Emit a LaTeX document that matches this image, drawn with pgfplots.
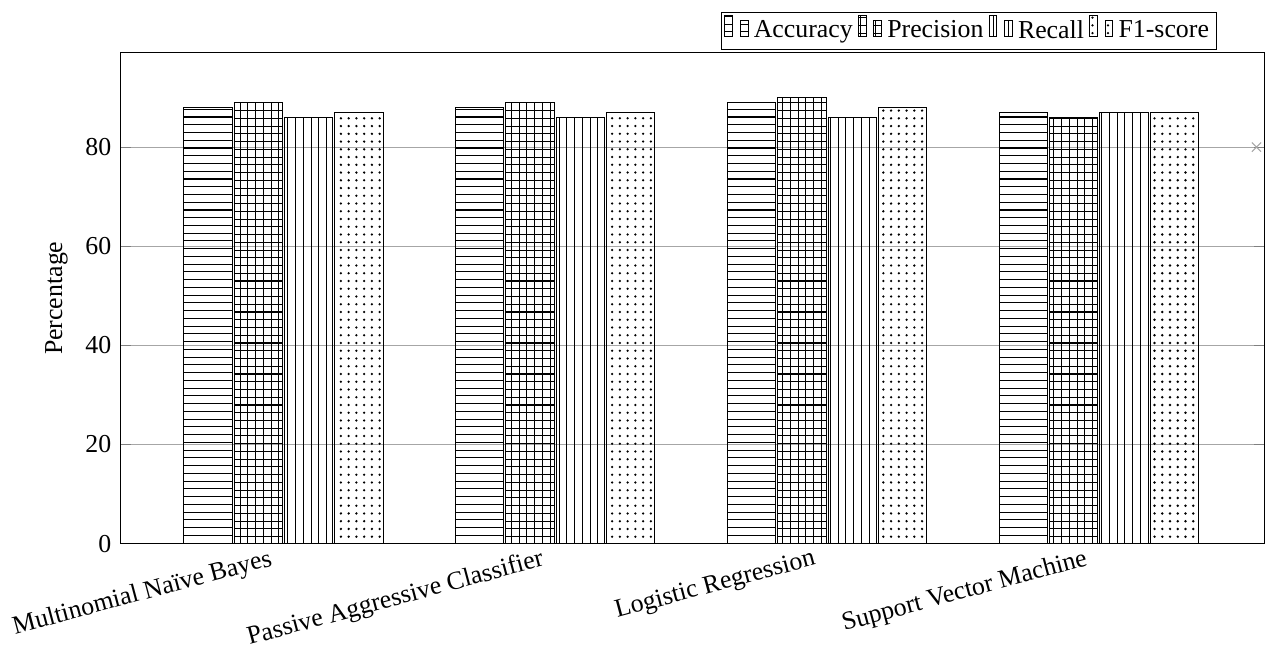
\documentclass[border=0pt]{standalone}
\usepackage{fontspec}
\setmainfont{Liberation Serif}
\usepackage{pgfplots}
\pgfplotsset{compat=1.18}
\usetikzlibrary{patterns}
\begin{document}
\begin{tikzpicture}
\begin{axis}[
  scale only axis,
  width=443pt, height=190pt,
  ybar=0.8pt, bar width=18.7pt,
  xmin=-0.6, xmax=3.61,
  ymin=0, ymax=99,
  ytick={0,20,40,60,80},
  xtick={0,1,2,3},
  xticklabels={Multinomial Naïve Bayes, Passive Aggressive Classifier, Logistic Regression, Support Vector Machine},
  x tick label style={rotate=15, anchor=north east, yshift=7.5pt, xshift=-1.5pt},
  major x tick style={draw=none},
  ymajorgrids, grid style={gray!70},
  ylabel={Percentage},
  /pgf/number format/assume math mode=true,
  tick label style={font=\normalsize},
  legend style={at={(0.9586,1.005)}, anchor=south east, legend columns=-1, draw=black, font=\normalsize, inner sep=1pt},
  legend cell align=left,
]
\addplot[draw=black, pattern=horizontal lines] coordinates {(0,88) (1,88) (2,89) (3,87)};
\addplot[draw=black, pattern=grid] coordinates {(0,89) (1,89) (2,90) (3,86)};
\addplot[draw=black, pattern=vertical lines] coordinates {(0,86) (1,86) (2,86) (3,87)};
\addplot[draw=black, pattern=dots] coordinates {(0,87) (1,87) (2,88) (3,87)};
\legend{Accuracy, Precision, Recall, F1-score}
\addplot[sharp plot, draw=none, gray!70, mark=x, mark size=2.5pt, forget plot] coordinates {(3.58,80)};
\end{axis}
\path ([yshift=4.7pt]current bounding box.north) coordinate (topextra);
\path ([xshift=1.5pt]current bounding box.east) coordinate (rightextra);
\end{tikzpicture}
\end{document}
